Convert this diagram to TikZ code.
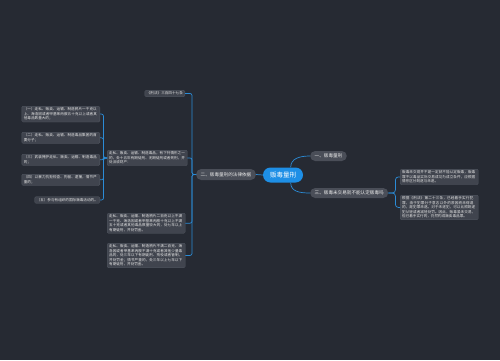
\documentclass[tikz,border=0pt]{standalone}
\usepackage{fontspec}
\setmainfont{Noto Sans CJK SC}
\XeTeXlinebreaklocale "zh"
\XeTeXlinebreakskip=0pt plus 0.5pt
\usetikzlibrary{positioning,calc}
\definecolor{bgdark}{HTML}{262A33}
\definecolor{boxfill}{HTML}{40444E}
\definecolor{boxline}{HTML}{535862}
\definecolor{pillfill}{HTML}{4A4E58}
\definecolor{rootblue}{HTML}{1E8FE6}
\definecolor{linkblue}{HTML}{2B8BD6}

\begin{document}
\begin{tikzpicture}[
  x=1pt,y=-1pt,
  note/.style={draw=boxline,line width=0.3pt,fill=boxfill,rounded corners=1.2pt,
    text=white!90!black,font=\fontsize{3.6}{4.5}\selectfont,align=left,
    inner xsep=2pt,inner ysep=1.6pt},
  pill/.style={fill=pillfill,rounded corners=5pt,text=white!92!black,
    font=\fontsize{4.6}{5.5}\selectfont,minimum height=10pt,inner xsep=4.5pt,inner ysep=0pt},
  root/.style={fill=rootblue,rounded corners=7.5pt,text=white,
    font=\fontsize{6.5}{7.5}\selectfont,minimum height=15pt,minimum width=40pt},
  link/.style={draw=linkblue,line width=0.7pt},
]
\fill[bgdark] (0,0) rectangle (500,360);
\useasboundingbox (0,0) rectangle (500,360);

% --- centre and main branches ---
\node[root] (root) at (283,175) {贩毒量刑};
\node[pill,anchor=west] (b1) at (310,156) {一、贩毒量刑};
\node[pill,anchor=west] (b3) at (310,193) {三、贩毒未交易就不能认定贩毒吗};
\node[pill,anchor=east,minimum height=11pt] (b2) at (256,174.5) {二、贩毒量刑的法律依据};

% --- legal basis ---
\node[note,anchor=east] (law) at (185,93.5) {《刑法》三百四十七条};
\node[note,anchor=north west,text width=76pt] (art) at (107,150)
  {走私、贩卖、运输、制造毒品，有下列情形之一的，处十五年有期徒刑、无期徒刑或者死刑，并处没收财产：};
\node[note,anchor=north west,text width=74pt] (big) at (107,213)
  {走私、贩卖、运输、制造鸦片二百克以上不满一千克、海洛因或者甲基苯丙胺十克以上不满五十克或者其他毒品数量较大的，处七年以上有期徒刑，并处罚金。};
\node[note,anchor=north west,text width=74pt] (small) at (107,243)
  {走私、贩卖、运输、制造鸦片不满二百克、海洛因或者甲基苯丙胺不满十克或者其他少量毒品的，处三年以下有期徒刑、拘役或者管制，并处罚金；情节严重的，处三年以上七年以下有期徒刑，并处罚金。};

% --- list of cases ---
\node[note,anchor=north east,text width=74pt] (k1) at (100,106)
  {（一）走私、贩卖、运输、制造鸦片一千克以上、海洛因或者甲基苯丙胺五十克以上或者其他毒品数量大的；};
\node[note,anchor=north east,text width=74pt] (k2) at (100,132)
  {（二）走私、贩卖、运输、制造毒品集团的首要分子；};
\node[note,anchor=north east,text width=74pt] (k3) at (100,154)
  {（三）武装掩护走私、贩卖、运输、制造毒品的；};
\node[note,anchor=north east,text width=74pt] (k4) at (100,174)
  {（四）以暴力抗拒检查、拘留、逮捕，情节严重的；};
\node[note,anchor=east] (k5) at (100,200) {（五）参与有组织的国际贩毒活动的。};

% --- not traded ---
\node[note,anchor=north west,text width=74pt] (r1) at (400,169)
  {贩毒未交易并不是一定就不能认定贩毒，贩毒罪不以毒品实际交易成功为成立条件，应根据情形区分既遂与未遂。};
\node[note,anchor=north west,text width=74pt] (r2) at (400,195)
  {根据《刑法》第二十三条，已经着手实行犯罪，由于犯罪分子意志以外的原因而未得逞的，是犯罪未遂。对于未遂犯，可以比照既遂犯从轻或者减轻处罚。因此，贩毒虽未交易，但已着手实行的，仍然构成贩卖毒品罪。};

% --- connectors ---
\draw[link] (root.45) .. controls +(0,-9) and +(-10,0) .. (b1.west);
\draw[link] (root.-45) .. controls +(0,9) and +(-10,0) .. (b3.west);
\draw[link] (root.west) -- (b2.east);

\coordinate (j2) at ($(b2.west)+(-4,0)$);
\foreach \c in {law,art,big,small}
  \draw[link,rounded corners=2pt] (b2.west) -- (j2) |- (\c.east);

\coordinate (j1) at ($(art.west)+(-3.5,0)$);
\foreach \c in {k1,k2,k3,k4,k5}
  \draw[link,rounded corners=2pt] (art.west) -- (j1) |- (\c.east);

\coordinate (j3) at ($(b3.east)+(7,0)$);
\foreach \c in {r1,r2}
  \draw[link,rounded corners=3pt] (b3.east) -- (j3) |- (\c.west);

\end{tikzpicture}
\end{document}
